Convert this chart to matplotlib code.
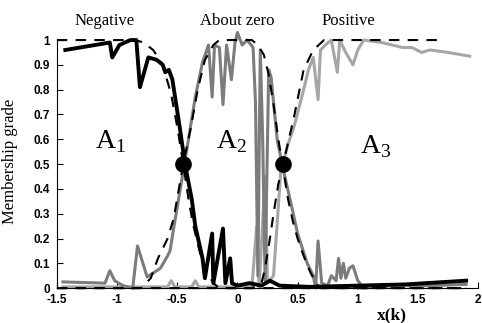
import matplotlib
matplotlib.use('Agg')
import matplotlib.pyplot as plt

plt.rcParams['mathtext.fontset'] = 'custom'
plt.rcParams['mathtext.rm'] = 'Liberation Serif'

# Negative (A1) - measured membership, black
x_neg = [-1.43, -1.06, -1.04, -0.98, -0.89, -0.84, -0.81, -0.74, -0.67, -0.62, -0.60, -0.57,
         -0.54, -0.48, -0.45, -0.42, -0.38, -0.35, -0.29, -0.27, -0.21, -0.20, -0.12, -0.10,
         -0.06, -0.045, 0.0, 0.1, 0.2, 0.27, 0.35, 0.6, 1.0, 1.4, 1.9]
y_neg = [0.96, 0.99, 0.93, 0.98, 1.0, 1.0, 0.81, 0.93, 0.92, 0.90, 0.87, 0.88,
         0.84, 0.65, 0.55, 0.46, 0.36, 0.25, 0.12, 0.04, 0.22, 0.02, 0.24, 0.02,
         0.12, 0.02, 0.01, 0.02, 0.01, 0.03, 0.01, 0.005, 0.01, 0.015, 0.03]

# About zero (A2) - measured, dark gray
x_zero = [-1.45, -1.1, -1.06, -1.02, -0.95, -0.87, -0.83, -0.75, -0.64, -0.58, -0.56, -0.52,
          -0.45, -0.40, -0.35, -0.29, -0.24, -0.21, -0.19, -0.15, -0.12, -0.09, -0.05, -0.02,
          0.0, 0.04, 0.08, 0.13, 0.15, 0.17, 0.19, 0.21, 0.23, 0.26, 0.28, 0.33, 0.38, 0.45,
          0.5, 0.58, 0.63, 0.65, 0.67, 0.7, 0.75, 0.78, 0.82, 0.84, 0.86, 0.88, 0.9, 0.93,
          0.96, 1.0, 1.05, 1.3, 1.6, 1.9]
y_zero = [0.025, 0.02, 0.07, 0.03, 0.01, 0.0, 0.17, 0.045, 0.08, 0.13, 0.15, 0.27,
          0.47, 0.62, 0.77, 0.91, 0.98, 0.77, 0.98, 0.97, 0.74, 0.98, 0.84, 0.99,
          1.03, 0.98, 1.0, 0.97, 0.75, 0.05, 0.96, 0.6, 0.03, 0.88, 0.85, 0.6, 0.48, 0.33,
          0.22, 0.1, 0.05, 0.0, 0.19, 0.02, 0.01, 0.05, 0.03, 0.12, 0.04, 0.1, 0.04, 0.08,
          0.09, 0.03, 0.0, 0.01, 0.01, 0.015]

# Positive (A3) - measured, light gray
x_pos = [-1.45, -0.8, -0.58, -0.55, -0.52, -0.38, -0.35, -0.32, 0.1, 0.12, 0.16, 0.18,
         0.23, 0.25, 0.3, 0.36, 0.42, 0.47, 0.545, 0.59, 0.63, 0.67, 0.69, 0.73, 0.78,
         0.83, 0.85, 0.9, 0.96, 1.0, 1.05, 1.2, 1.37, 1.45, 1.53, 1.6, 1.75, 1.93]
y_pos = [0.005, 0.005, 0.005, 0.03, 0.005, 0.005, 0.03, 0.005, 0.005, 0.0, 0.25, 0.0,
         0.45, 0.02, 0.05, 0.47, 0.58, 0.65, 0.79, 0.88, 0.93, 0.76, 0.96, 0.98, 1.0,
         0.87, 1.0, 0.95, 0.9, 0.96, 1.0, 0.99, 0.97, 0.97, 0.95, 0.96, 0.95, 0.935]

# ideal (dashed) membership functions
xd_neg = [-1.5, -0.85, -0.78, -0.7, -0.62, -0.55, -0.5, -0.45, -0.41, -0.37, -0.3, -0.25, -0.2, -0.15, 1.9]
yd_neg = [1.0, 1.0, 0.99, 0.96, 0.9, 0.78, 0.65, 0.5, 0.37, 0.26, 0.12, 0.06, 0.02, 0.0, 0.0]

xd_zero = [-1.5, -0.8, -0.72, -0.66, -0.58, -0.53, -0.45, -0.39, -0.33, -0.27, -0.2, -0.15,
           0.12, 0.17, 0.22, 0.26, 0.3, 0.34, 0.38, 0.42, 0.46, 0.5, 0.55, 0.6, 0.65, 0.7, 1.9]
yd_zero = [0.0, 0.0, 0.04, 0.12, 0.2, 0.28, 0.5, 0.64, 0.8, 0.92, 0.98, 1.0,
           1.0, 0.98, 0.94, 0.86, 0.74, 0.6, 0.48, 0.36, 0.27, 0.2, 0.13, 0.07, 0.02, 0.0, 0.0]

xd_pos = [-1.5, 0.12, 0.2, 0.23, 0.27, 0.3, 0.34, 0.38, 0.47, 0.55, 0.63, 0.72, 1.68]
yd_pos = [0.0, 0.0, 0.02, 0.08, 0.2, 0.3, 0.42, 0.5, 0.69, 0.88, 0.96, 1.0, 1.0]

# crossing points
x_cross = [-0.45, 0.38]
y_cross = [0.5, 0.5]

x_ticks = [-1.5, -1, -0.5, 0, 0.5, 1, 1.5, 2]
x_ticklabels = ['-1.5', '-1', '-0.5', '0', '0.5', '1', '1.5', '2']
y_ticks = [0, 0.1, 0.2, 0.3, 0.4, 0.5, 0.6, 0.7, 0.8, 0.9, 1]
y_ticklabels = ['0', '0.1', '0.2', '0.3', '0.4', '0.5', '0.6', '0.7', '0.8', '0.9', '1']

fig = plt.figure(figsize=(4.82, 3.23), dpi=100)
ax = fig.add_axes([0.118, 0.108, 0.874, 0.768])

ax.plot(x_pos, y_pos, color='#a6a6a6', lw=2.2, clip_on=False)
ax.plot(x_zero, y_zero, color='#7c7c7c', lw=2.2, clip_on=False)
ax.plot(x_neg, y_neg, color='black', lw=2.8, clip_on=False)
for xd, yd in [(xd_neg, yd_neg), (xd_zero, yd_zero), (xd_pos, yd_pos)]:
    ax.plot(xd, yd, color='black', lw=1.5, ls=(0, (5, 4)), clip_on=False)
ax.plot(x_cross, y_cross, 'o', color='black', markersize=11, clip_on=False)

ax.set_xlim(-1.5, 2)
ax.set_ylim(0, 1)
ax.spines['top'].set_visible(False)
ax.spines['right'].set_visible(False)
ax.tick_params(direction='in', length=4, width=0.8)
ax.tick_params(axis='y', pad=5)
ax.tick_params(axis='x', pad=4)
ax.set_xticks(x_ticks)
ax.set_xticklabels(x_ticklabels, fontfamily='Liberation Sans', fontweight='bold', fontsize=8.5)
ax.set_yticks(y_ticks)
ax.set_yticklabels(y_ticklabels, fontfamily='Liberation Sans', fontweight='bold', fontsize=8.5)

serif = 'Liberation Serif'
ax.set_ylabel('Membership grade', fontfamily=serif, fontsize=12)
ax.yaxis.set_label_coords(-0.093, 0.51)
ax.set_xlabel('x(k)', fontfamily=serif, fontweight='bold', fontsize=12.5)
ax.xaxis.set_label_coords(0.795, -0.078)

fig.text(105 / 482, 1 - 21 / 323, 'Negative', fontfamily=serif, fontsize=12, ha='center', va='center')
fig.text(237 / 482, 1 - 21 / 323, 'About zero', fontfamily=serif, fontsize=12, ha='center', va='center')
fig.text(348 / 482, 1 - 21 / 323, 'Positive', fontfamily=serif, fontsize=12, ha='center', va='center')

ax.text(-1.18, 0.565, r'$\mathrm{A}_1$', fontsize=20)
ax.text(-0.18, 0.565, r'$\mathrm{A}_2$', fontsize=20)
ax.text(1.02, 0.545, r'$\mathrm{A}_3$', fontsize=20)

fig.savefig('out.png', dpi=100)
plt.close(fig)
